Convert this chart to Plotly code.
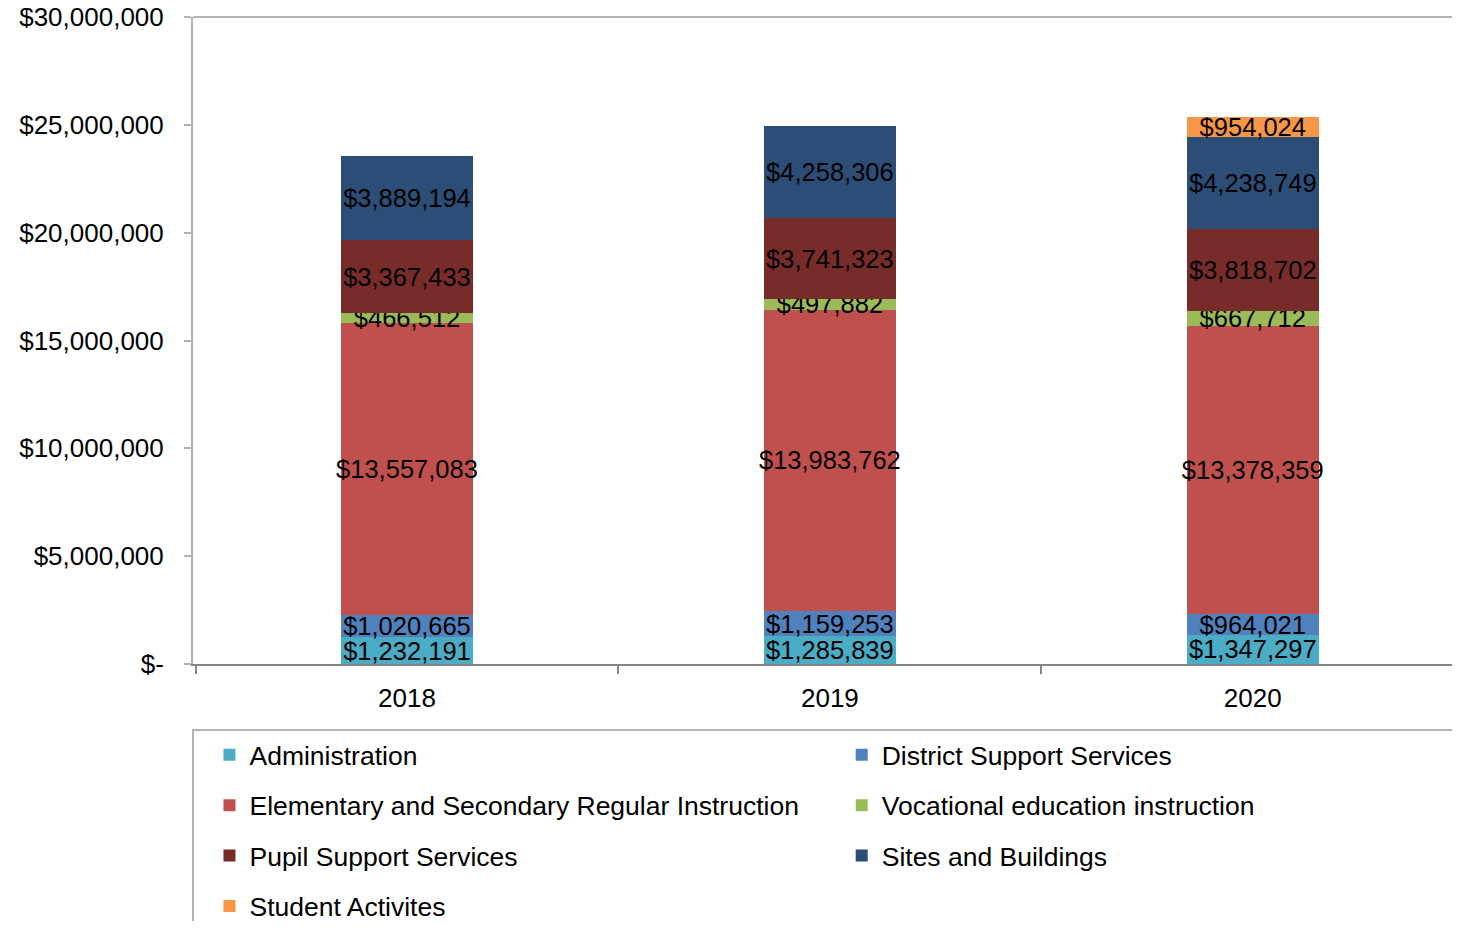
import plotly.graph_objects as go

# 数据
years = ['2018', '2019', '2020']
admin = [1232191, 1285839, 1347297]
district = [1020665, 1159253, 964021]
elementary = [13557083, 13983762, 13378359]
vocational = [466512, 497882, 667712]
pupil = [3367433, 3741323, 3818702]
sites = [3889194, 4258306, 4238749]
student = [None, None, 954024]

y_tickvals = [0, 5000000, 10000000, 15000000, 20000000, 25000000, 30000000]
y_ticktext = ['$-', '$5,000,000', '$10,000,000', '$15,000,000',
              '$20,000,000', '$25,000,000', '$30,000,000']

# 配色
series = [
    ('Administration', admin, '#4BACC6', 'legend'),
    ('District Support Services', district, '#4F81BD', 'legend2'),
    ('Elementary and Secondary Regular Instruction', elementary, '#C0504D', 'legend'),
    ('Vocational education instruction', vocational, '#9BBB59', 'legend2'),
    ('Pupil Support Services', pupil, '#772C2A', 'legend'),
    ('Sites and Buildings', sites, '#2C4D75', 'legend2'),
    ('Student Activites', student, '#F79646', 'legend'),
]

FONT = 'Liberation Sans, Arial, sans-serif'
FS = 26

fig = go.Figure()
for name, vals, color, leg in series:
    labels = ['' if v is None else f'${v:,.0f}' for v in vals]
    fig.add_trace(go.Bar(
        x=years, y=vals, name=name,
        marker=dict(color=color, line=dict(width=0)),
        width=0.312,
        text=labels, textposition='inside', textangle=0,
        constraintext='none', insidetextanchor='middle',
        insidetextfont=dict(color='black', size=25.5, family=FONT),
        legend=leg, legendgroup=name,
    ))

# 图例外框 + 顶部边线
fig.add_shape(type='line', xref='paper', yref='paper', x0=0, x1=1, y0=1, y1=1,
              line=dict(color='#b3b3b3', width=2))
fig.add_shape(type='rect', xref='paper', yref='paper', x0=0, x1=0.998, y0=-0.102, y1=-0.6,
              line=dict(color='#b3b3b3', width=2), fillcolor='rgba(0,0,0,0)')

leg_common = dict(bgcolor='rgba(0,0,0,0)', borderwidth=0, orientation='v',
                  xanchor='left', yanchor='top', tracegroupgap=13,
                  font=dict(size=26.5, family=FONT, color='black'))

# 页面 body 自带 8px 边距，整体尺寸减掉
fig.update_layout(
    width=1452, height=913, autosize=False,
    barmode='stack',
    plot_bgcolor='white', paper_bgcolor='white',
    margin=dict(l=185, r=0, t=9, b=257, autoexpand=False),
    font=dict(family=FONT, size=FS, color='black'),
    showlegend=True,
    legend=dict(x=0.013, y=-0.1035, **leg_common),
    legend2=dict(x=0.512, y=-0.1035, **leg_common),
)
fig.update_xaxes(
    type='category', range=[-0.506, 2.49],
    showline=True, linecolor='#858585', linewidth=2,
    ticks='outside', tickson='boundaries', ticklen=8, tickcolor='#858585', tickwidth=2,
    showgrid=False, ticklabelstandoff=10,
)
fig.update_yaxes(
    range=[0, 30000000], tickvals=y_tickvals, ticktext=y_ticktext,
    showline=True, linecolor='#b3b3b3', linewidth=2,
    ticks='outside', ticklen=7, tickcolor='#b3b3b3', tickwidth=2,
    showgrid=False, zeroline=False, ticklabelstandoff=15,
    ticklabeloverflow='allow',
)

fig.write_html("out.html")
